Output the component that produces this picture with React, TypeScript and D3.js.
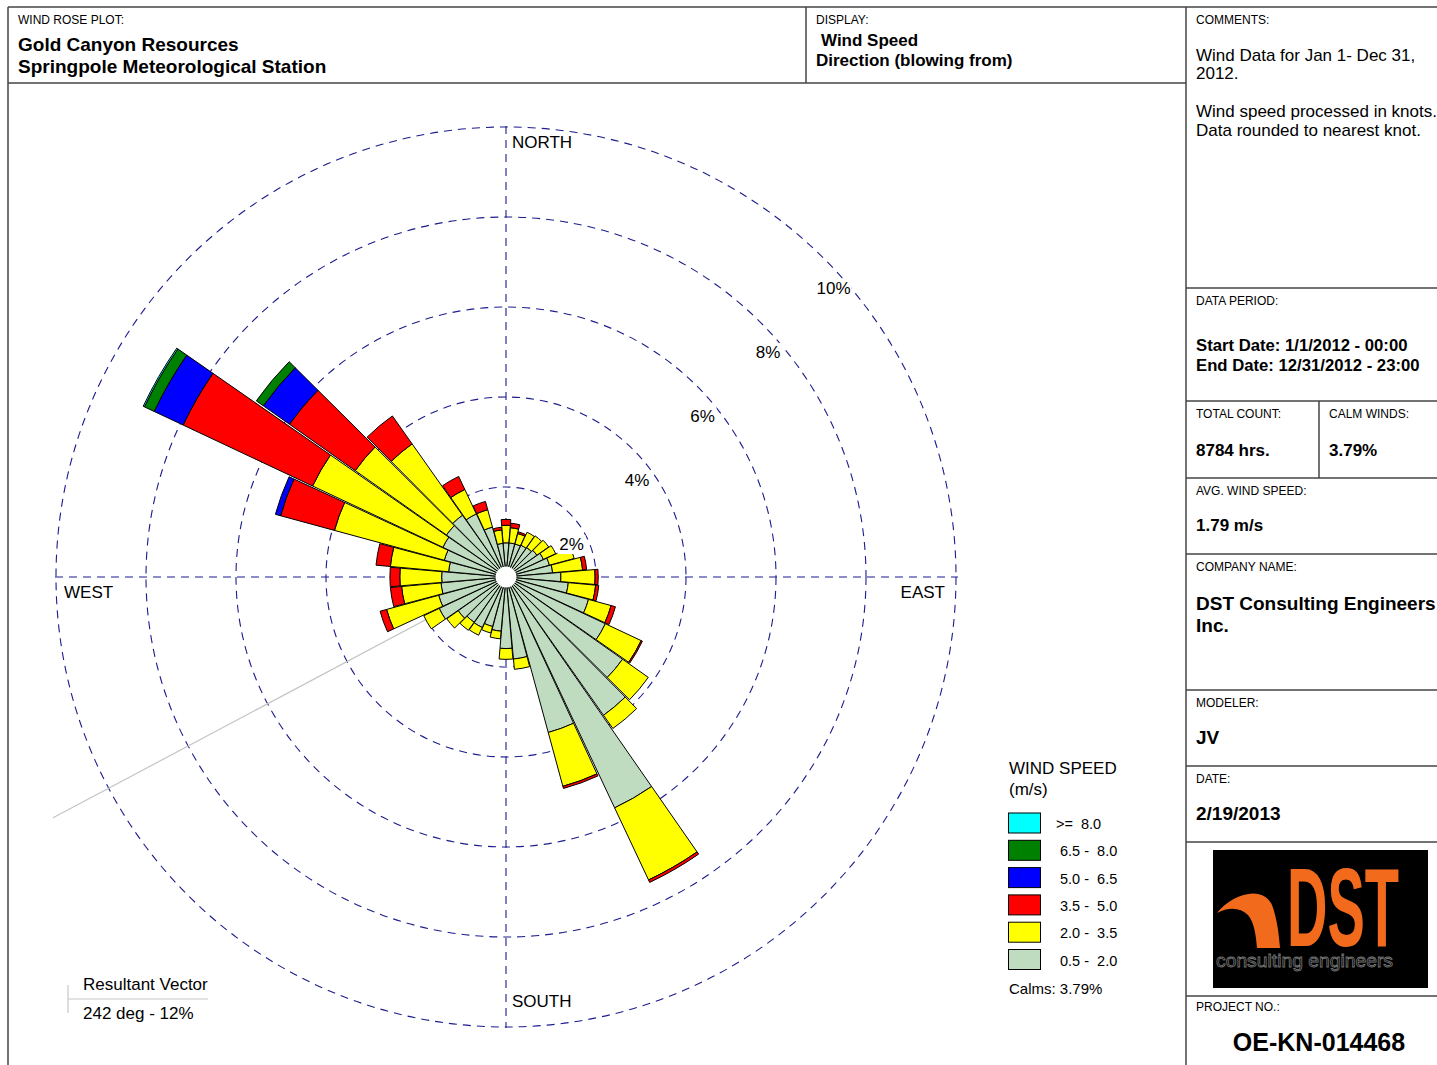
import React from 'react';
import * as d3 from 'd3';

// ---------- DATA ----------
const directions = [0, 10, 20, 30, 40, 50, 60, 70, 80, 90, 100, 110, 120, 130, 140, 150, 160, 170,
  180, 190, 200, 210, 220, 230, 240, 250, 260, 270, 280, 290, 300, 310, 320, 330, 340, 350];

// frequency (%) per direction for each wind speed class (m/s)
const freq_05_20 = [0.76, 0.76, 0.76, 0.78, 0.80, 0.84, 0.92, 1.00, 1.04, 1.22, 1.39, 1.90, 2.44, 3.17, 3.76, 5.67, 3.58, 1.83,
  1.59, 1.21, 1.14, 1.24, 1.23, 1.30, 1.64, 1.55, 1.45, 1.43, 1.28, 1.42, 1.55, 1.62, 1.68, 1.55, 1.15, 0.75];
const freq_20_35 = [0.39, 0.34, 0.24, 0.32, 0.32, 0.32, 0.30, 0.57, 0.67, 0.76, 0.61, 0.52, 0.88, 0.70, 0.36, 1.77, 1.24, 0.23,
  0.24, 0.17, 0.15, 0.19, 0.22, 0.31, 0.38, 1.20, 0.88, 0.93, 1.30, 2.53, 3.20, 2.48, 1.94, 0.60, 0.40, 0.30];
const freq_35_50 = [0.13, 0.10, 0.04, 0, 0, 0, 0, 0, 0.09, 0.07, 0.07, 0.10, 0.03, 0, 0, 0.06, 0.05, 0,
  0, 0, 0, 0, 0, 0, 0, 0.15, 0.25, 0.22, 0.32, 1.24, 3.18, 1.79, 0.76, 0.32, 0.19, 0.06];
const freq_50_65 = [0, 0, 0, 0, 0, 0, 0, 0, 0, 0, 0, 0, 0, 0, 0, 0, 0, 0,
  0, 0, 0, 0, 0, 0, 0, 0, 0, 0, 0, 0.12, 0.71, 0.71, 0, 0, 0, 0];
const freq_65_80 = [0, 0, 0, 0, 0, 0, 0, 0, 0, 0, 0, 0, 0, 0, 0, 0, 0, 0,
  0, 0, 0, 0, 0, 0, 0, 0, 0, 0, 0, 0, 0.24, 0.19, 0, 0, 0, 0];
const freq_80_up = [0, 0, 0, 0, 0, 0, 0, 0, 0, 0, 0, 0, 0, 0, 0, 0, 0, 0,
  0, 0, 0, 0, 0, 0, 0, 0, 0, 0, 0, 0, 0.03, 0, 0, 0, 0, 0];

const speedSeries = [freq_05_20, freq_20_35, freq_35_50, freq_50_65, freq_65_80, freq_80_up];
const speedLabels = ['0.5 -  2.0', '2.0 -  3.5', '3.5 -  5.0', '5.0 -  6.5', '6.5 -  8.0', '>=  8.0'];
const speedColors = ['#C0DCC0', '#FFFF00', '#FF0000', '#0000FF', '#008000', '#00FFFF'];

const ringValues = [2, 4, 6, 8, 10];
const compassLabels = ['NORTH', 'EAST', 'SOUTH', 'WEST'];

const resultantDeg = 242;
const resultantPct = 12;
const resultantDrawnPct = 11.4;
const calmsPct = 3.79;

// ---------- LAYOUT ----------
const W = 1437;
const H = 1065;
const cx = 506;
const cy = 577;
const rMax = 450;
const FONT = 'Liberation Sans, Arial, Helvetica, sans-serif';
const NAVY = '#1c1c8c';
const FRAME = '#454545';

const rScale = d3.scaleLinear().domain([0, 10]).range([0, rMax]);
const halfWidth = (4.8 * Math.PI) / 180;
const arcGen = d3.arc<any>();

function buildSegments() {
  const segs: { d: string; fill: string; key: string }[] = [];
  directions.forEach((dir, i) => {
    let cum = 0;
    const a = (dir * Math.PI) / 180;
    speedSeries.forEach((series, k) => {
      const v = series[i];
      if (v <= 0) return;
      const d = arcGen({
        innerRadius: rScale(cum),
        outerRadius: rScale(cum + v),
        startAngle: a - halfWidth,
        endAngle: a + halfWidth,
      }) as string;
      segs.push({ d, fill: speedColors[k], key: `${dir}-${k}` });
      cum += v;
    });
  });
  return segs;
}

const Label = ({ x, y, text, size = 12, weight = 'normal', anchor = 'start' }: any) => (
  <text x={x} y={y} fontSize={size} fontWeight={weight} textAnchor={anchor} fontFamily={FONT} fill="#000">
    {text}
  </text>
);

export default function App() {
  const segs = buildSegments();
  const resA = (resultantDeg * Math.PI) / 180;
  const resR = rScale(resultantDrawnPct);

  const panelX = 1186;
  const hSeps = [288, 401, 478, 554, 690, 766, 842, 996];

  return (
    <svg width={W} height={H} style={{ position: 'absolute', left: 0, top: 0, background: '#fff' }}>
      <rect x={0} y={0} width={W} height={H} fill="#fff" />

      {/* frame */}
      <g stroke={FRAME} strokeWidth={1.5} fill="none">
        <line x1={8} y1={7} x2={W} y2={7} />
        <line x1={8} y1={7} x2={8} y2={H} />
        <line x1={8} y1={83} x2={panelX} y2={83} />
        <line x1={806} y1={7} x2={806} y2={83} />
        <line x1={panelX} y1={7} x2={panelX} y2={H} />
        {hSeps.map((y) => (
          <line key={y} x1={panelX} y1={y} x2={W} y2={y} />
        ))}
        <line x1={1319} y1={401} x2={1319} y2={478} />
      </g>

      {/* header */}
      <Label x={18} y={24} text="WIND ROSE PLOT:" size={12} />
      <Label x={18} y={51} text="Gold Canyon Resources" size={19} weight="bold" />
      <Label x={18} y={73} text="Springpole Meteorological Station" size={19} weight="bold" />
      <Label x={816} y={24} text="DISPLAY:" size={12} />
      <Label x={821} y={46} text="Wind Speed" size={17} weight="bold" />
      <Label x={816} y={66} text="Direction (blowing from)" size={17} weight="bold" />

      {/* right panel */}
      <Label x={1196} y={24} text="COMMENTS:" size={12} />
      <Label x={1196} y={61} text="Wind Data for Jan 1- Dec 31," size={17} />
      <Label x={1196} y={79} text="2012." size={17} />
      <Label x={1196} y={117} text="Wind speed processed in knots." size={17} />
      <Label x={1196} y={136} text="Data rounded to nearest knot." size={17} />
      <Label x={1196} y={305} text="DATA PERIOD:" size={12} />
      <Label x={1196} y={351} text="Start Date: 1/1/2012 - 00:00" size={16.7} weight="bold" />
      <Label x={1196} y={371} text="End Date: 12/31/2012 - 23:00" size={16.7} weight="bold" />
      <Label x={1196} y={418} text="TOTAL COUNT:" size={12} />
      <Label x={1329} y={418} text="CALM WINDS:" size={12} />
      <Label x={1196} y={456} text="8784 hrs." size={17} weight="bold" />
      <Label x={1329} y={456} text={`${calmsPct}%`} size={17} weight="bold" />
      <Label x={1196} y={495} text="AVG. WIND SPEED:" size={12} />
      <Label x={1196} y={531} text="1.79 m/s" size={17} weight="bold" />
      <Label x={1196} y={571} text="COMPANY NAME:" size={12} />
      <Label x={1196} y={610} text="DST Consulting Engineers" size={19} weight="bold" />
      <Label x={1196} y={632} text="Inc." size={19} weight="bold" />
      <Label x={1196} y={707} text="MODELER:" size={12} />
      <Label x={1196} y={744} text="JV" size={19} weight="bold" />
      <Label x={1196} y={783} text="DATE:" size={12} />
      <Label x={1196} y={820} text="2/19/2013" size={19} weight="bold" />
      <Label x={1196} y={1011} text="PROJECT NO.:" size={12} />
      <Label x={1319} y={1051} text="OE-KN-014468" size={25} weight="bold" anchor="middle" />

      {/* logo */}
      <g>
        <rect x={1213} y={850} width={215} height={138} fill="#000" />
        <path
          d="M1217,913 C1231,895 1262,884 1272,905 C1277,918 1279,935 1280,948 L1257,948 C1256,935 1254,922 1248,915 C1240,907 1228,907 1217,913 Z"
          fill="#F26B1D"
        />
        <g transform="translate(1287,946) scale(0.5,1)">
          <text x={0} y={0} fontSize={112} fontWeight="bold" fontFamily={FONT} fill="#F26B1D">
            DST
          </text>
        </g>
        <text
          x={1216}
          y={967}
          fontSize={19}
          fontFamily={FONT}
          fill="#000"
          stroke="#777"
          strokeWidth={0.8}
          textLength={177}
          lengthAdjust="spacingAndGlyphs"
        >
          consulting engineers
        </text>
      </g>

      {/* grid circles */}
      <g fill="none" stroke={NAVY} strokeWidth={1.1} strokeDasharray="8 6">
        {ringValues.map((v) => (
          <circle key={v} cx={cx} cy={cy} r={rScale(v)} />
        ))}
        <line x1={cx} y1={cy - rMax - 1} x2={cx} y2={cy + rMax + 1} />
        <line x1={cx - rMax - 1} y1={cy} x2={cx + rMax + 2} y2={cy} />
      </g>

      {/* resultant vector */}
      <line
        x1={cx}
        y1={cy}
        x2={cx + resR * Math.sin(resA)}
        y2={cy - resR * Math.cos(resA)}
        stroke="#c4c4c4"
        strokeWidth={1.2}
      />

      {/* petals */}
      <g transform={`translate(${cx},${cy})`} stroke="#000" strokeWidth={1} strokeLinejoin="miter">
        {segs.map((s) => (
          <path key={s.key} d={s.d} fill={s.fill} />
        ))}
      </g>
      <circle cx={cx} cy={cy} r={10.5} fill="#fff" />

      {/* ring labels */}
      {ringValues.map((v) => {
        const r = rScale(v);
        const x = cx + 0.728 * r;
        const y = cy - 0.711 * r + 37;
        const w = v >= 10 ? 36 : 28;
        return (
          <g key={v}>
            <rect x={x - w / 2} y={y - 15} width={w} height={19} fill="#fff" />
            <text x={x} y={y} fontSize={17} fontFamily={FONT} textAnchor="middle" fill="#000">
              {`${v}%`}
            </text>
          </g>
        );
      })}

      {/* compass labels */}
      <Label x={cx + 6} y={cy - rMax + 21} text={compassLabels[0]} size={17} />
      <Label x={cx + rMax - 11} y={cy + 21} text={compassLabels[1]} size={17} anchor="end" />
      <Label x={cx + 6} y={cy + rMax - 20} text={compassLabels[2]} size={17} />
      <Label x={cx - rMax + 8} y={cy + 21} text={compassLabels[3]} size={17} />

      {/* legend */}
      <Label x={1009} y={774} text="WIND SPEED" size={17} />
      <Label x={1009} y={795} text="(m/s)" size={17} />
      {speedLabels
        .map((lab, k) => ({ lab, k }))
        .reverse()
        .map(({ lab, k }, j) => {
          const y = 813 + j * 27.3;
          return (
            <g key={lab}>
              <rect x={1008.5} y={y} width={32} height={20} fill={speedColors[k]} stroke="#000" strokeWidth={1} />
              <text
                x={k === 5 ? 1056 : 1060}
                y={y + 16}
                fontSize={14.5}
                fontFamily={FONT}
                fill="#000"
                style={{ whiteSpace: 'pre' }}
              >
                {lab}
              </text>
            </g>
          );
        })}
      <Label x={1009} y={994} text={`Calms: ${calmsPct}%`} size={15} />

      {/* resultant legend */}
      <g stroke="#c8c8c8" strokeWidth={1.2}>
        <line x1={68} y1={985} x2={68} y2={1013} />
        <line x1={68} y1={999} x2={208} y2={999} />
      </g>
      <Label x={83} y={990} text="Resultant Vector" size={17} />
      <Label x={83} y={1019} text={`${resultantDeg} deg - ${resultantPct}%`} size={17} />
    </svg>
  );
}
